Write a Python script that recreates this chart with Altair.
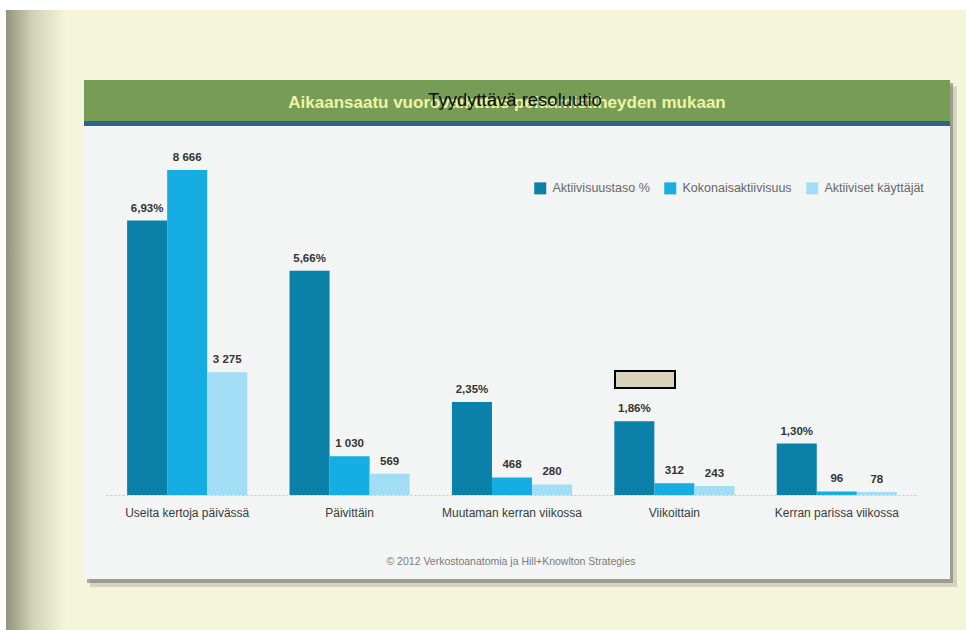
import altair as alt
import pandas as pd

# ---------------- data ----------------
categories = ["Useita kertoja päivässä", "Päivittäin", "Muutaman kerran viikossa",
              "Viikoittain", "Kerran parissa viikossa"]
series = ["Aktiivisuustaso %", "Kokonaisaktiivisuus", "Aktiiviset käyttäjät"]
aktiivisuustaso = [6.93, 5.66, 2.35, 1.86, 1.30]
kokonaisaktiivisuus = [8666, 1030, 468, 312, 96]
aktiiviset_kayttajat = [3275, 569, 280, 243, 78]
colors = ["#0b81aa", "#16ade2", "#a2ddf6"]

title_text = "Aikaansaatu vuorovaikutus pelaamistiheyden mukaan"
overlay_text = "Tyydyttävä resoluutio"
source_text = "© 2012 Verkostoanatomia ja Hill+Knowlton Strategies"

def fmt_pct(v):
    return f"{v:.2f}%".replace(".", ",")

def fmt_int(v):
    return f"{v:,}".replace(",", " ")

pct_df = pd.DataFrame({
    "kategoria": categories,
    "sarja": series[0],
    "arvo": aktiivisuustaso,
    "teksti": [fmt_pct(v) for v in aktiivisuustaso],
})
cnt_rows = []
for c, a, b in zip(categories, kokonaisaktiivisuus, aktiiviset_kayttajat):
    cnt_rows.append({"kategoria": c, "sarja": series[1], "arvo": a, "teksti": fmt_int(a)})
    cnt_rows.append({"kategoria": c, "sarja": series[2], "arvo": b, "teksti": fmt_int(b)})
cnt_df = pd.DataFrame(cnt_rows)

# ---------------- layout ----------------
X0, Y0 = 106, 160
W, H = 812, 335
FONT = "Liberation Sans"

x_enc = alt.X("kategoria:N", sort=categories,
              scale=alt.Scale(paddingInner=0.26, paddingOuter=0.13),
              axis=alt.Axis(title=None, labelAngle=0, ticks=False, labelPadding=12,
                            labelFont=FONT, labelFontSize=12, labelColor="#3a3a3a",
                            domainColor="#c4c6c7", domainDash=[2, 2], domainWidth=1,
                            grid=False, zindex=1))
xoff_enc = alt.XOffset("sarja:N", sort=series,
                       scale=alt.Scale(domain=series, paddingInner=0, paddingOuter=0))
color_enc = alt.Color("sarja:N",
                      scale=alt.Scale(domain=series, range=colors),
                      legend=alt.Legend(orient="none", legendX=428, legendY=22,
                                        direction="horizontal", title=None,
                                        symbolType="square", symbolSize=144,
                                        symbolStrokeWidth=0, symbolOpacity=1,
                                        labelFont=FONT, labelFontSize=12.5,
                                        labelColor="#666666", columnPadding=14,
                                        labelOffset=6, padding=0, zindex=1))

def one():
    return alt.Data(values=[{"d": 1}])

def rect(x, x2, y, y2, **kw):
    return alt.Chart(one()).mark_rect(**kw).encode(
        x=alt.value(x - X0), x2=alt.value(x2 - X0),
        y=alt.value(y - Y0), y2=alt.value(y2 - Y0))

def label(txt, x, y, **kw):
    return alt.Chart(one()).mark_text(**kw).encode(
        x=alt.value(x - X0), y=alt.value(y - Y0), text=alt.value(txt))

# decorations
white_top = rect(0, 966, 0, 10, color="#ffffff")
white_left = rect(0, 6, 0, 630, color="#ffffff")
grad = alt.LinearGradient(gradient="linear", x1=0, x2=1, y1=0, y2=0,
                          stops=[alt.GradientStop(offset=0, color="#93937e"),
                                 alt.GradientStop(offset=0.45, color="#d2d2b8"),
                                 alt.GradientStop(offset=1, color="#f5f5dc")])
left_strip = rect(6, 66, 10, 630, fill=grad)
shadow2 = rect(90, 957, 86, 587, color="#9a9a86", opacity=0.35)
shadow1 = rect(87, 953, 83, 583, color="#6f6f66", opacity=0.55)
panel = rect(84, 950, 80, 579, color="#f3f5f5")
header = rect(84, 950, 80, 121, color="#779c56")
blue_line = rect(84, 950, 121, 126, color="#2e6290")
beige_box = rect(615, 675, 371, 388, fill="#d9d4bc", stroke="#000000", strokeWidth=2)

title_lbl = label(title_text, 507, 103, font=FONT, fontSize=17, fontWeight="bold",
                  color="#eef4a4", align="center", baseline="middle")
overlay_lbl = label(overlay_text, 515, 100, font=FONT, fontSize=18.5, color="#111111",
                    align="center", baseline="middle")
source_lbl = label(source_text, 511, 562, font=FONT, fontSize=10.5, color="#7a7a7a",
                   align="center", baseline="middle")

# data layers
pct_scale = alt.Scale(domain=[0, 8.46])
cnt_scale = alt.Scale(domain=[0, 8933])

pct_bars = alt.Chart(pct_df).mark_bar().encode(
    x=x_enc, xOffset=xoff_enc,
    y=alt.Y("arvo:Q", scale=pct_scale, axis=None),
    color=color_enc)
pct_text = alt.Chart(pct_df).mark_text(dy=-12, font=FONT, fontSize=11.5, fontWeight="bold",
                                       color="#333333").encode(
    x=x_enc, xOffset=xoff_enc,
    y=alt.Y("arvo:Q", scale=pct_scale, axis=None),
    text="teksti:N")
cnt_bars = alt.Chart(cnt_df).mark_bar().encode(
    x=x_enc, xOffset=xoff_enc,
    y=alt.Y("arvo:Q", scale=cnt_scale, axis=None),
    color=color_enc)
cnt_text = alt.Chart(cnt_df).mark_text(dy=-12, font=FONT, fontSize=11.5, fontWeight="bold",
                                       color="#333333").encode(
    x=x_enc, xOffset=xoff_enc,
    y=alt.Y("arvo:Q", scale=cnt_scale, axis=None),
    text="teksti:N")

chart = alt.layer(
    white_top, white_left, left_strip, shadow2, shadow1, panel, header, blue_line,
    pct_bars, cnt_bars, pct_text, cnt_text,
    beige_box, title_lbl, overlay_lbl, source_lbl,
).resolve_scale(y="independent").properties(
    width=W, height=H,
    autosize=alt.AutoSizeParams(type="none"),
    padding={"left": X0, "top": Y0, "right": 966 - X0 - W, "bottom": 630 - Y0 - H},
    background="#f5f5dc",
).configure_view(stroke=None, fill=None)

chart.save("out.html", embed_options={"renderer": "svg", "actions": False})
